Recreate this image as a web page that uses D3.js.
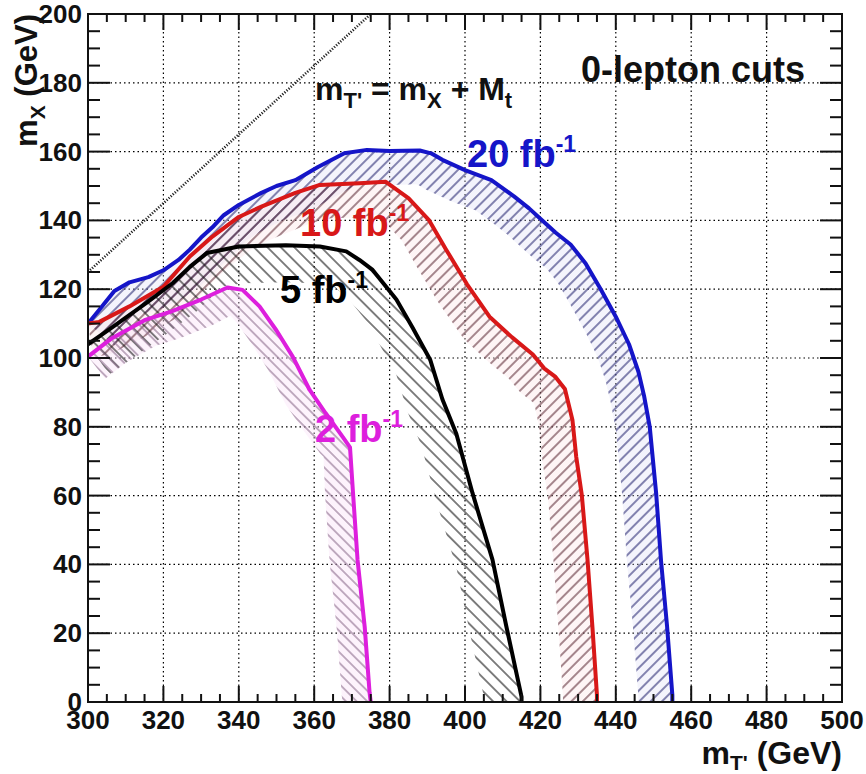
<!DOCTYPE html>
<html>
<head>
<meta charset="utf-8">
<script src="https://cdn.jsdelivr.net/npm/d3@7"></script>
<style>
  html, body { margin: 0; padding: 0; background: #fff; }
  svg { display: block; }
  text { font-family: "Liberation Sans", Arial, Helvetica, sans-serif; font-weight: bold; }
</style>
</head>
<body>
<svg id="chart" width="866" height="774"></svg>
<script>
// ---------------- data ----------------
const xTicks = [300, 320, 340, 360, 380, 400, 420, 440, 460, 480, 500];
const yTicks = [0, 20, 40, 60, 80, 100, 120, 140, 160, 180, 200];

// 20 fb^-1 exclusion contour
const curve20 = [[300,110],[303,114],[307,119.5],[311,122],[316,123.5],[320,125.5],[324,128.5],[327,131.5],
  [330,135],[333,138],[336,141.5],[340,144.5],[346,148],[350,150],[355,151.7],[361,155.5],[368,159.5],
  [374,160.5],[380,160.2],[388,160.3],[391,159.5],[394,157.6],[400,154.6],[407,151.7],[413,147],
  [417,143.5],[420.5,140],[424,136.5],[428,133],[432,127.5],[436,120],[440,112],[443.5,104],[446,96],
  [447.5,89],[449,80],[450.7,60.7],[452,41],[453.6,22],[455,2],[455,0]];
// 10 fb^-1
const curve10 = [[300,110],[303,110.5],[311,115],[320,120.7],[327,129.5],[333,135.3],[340,141],[346,144],
  [355,148],[361.5,150.3],[372,150.8],[379,151.2],[385,146.5],[390.5,140],[395,131.5],[400.5,121.5],
  [406.5,112],[412.5,106],[418,101],[421,97],[424,94.5],[426.5,91],[428.5,82],[429.5,71.3],
  [431,60],[432.5,41.3],[433.8,21.8],[435,2],[435,0]];
// 5 fb^-1
const curve5 = [[300,104],[306.5,109],[315.5,116],[322.5,121.8],[327,126.5],[331.5,130.5],[340,132.4],
  [352.5,132.8],[361.5,132.4],[368.5,131],[372,128.5],[375.5,125.6],[381.8,117],[386,109],[390.8,99.4],
  [394,88],[397.7,78],[402,60.7],[407.3,41.3],[411,21.8],[415,1.5],[415,0]];
// 2 fb^-1
const curve2 = [[300,100.4],[306,105.5],[315,111],[322,113.5],[330,117],[337,120.5],[341,119.8],
  [345.5,115],[350,108],[354.3,100.4],[358.8,90.7],[363,84],[367.6,77],[369.5,74],[370.3,60.7],
  [371.5,41.3],[373.4,21.8],[374.7,2.6],[375,0]];
// kinematic limit m_T' = m_X + M_t (M_t = 175)
const diagLine = [[300,125],[375,200]];

// ---------------- layout ----------------
const L = 88, R = 842, T = 14, B = 702;
const svg = d3.select("#chart");
const x = d3.scaleLinear().domain([300, 500]).range([L, R]);
const y = d3.scaleLinear().domain([0, 200]).range([B, T]);

const defs = svg.append("defs");
defs.append("clipPath").attr("id", "frameClip")
  .append("rect").attr("x", L).attr("y", T).attr("width", R - L).attr("height", B - T);

function hatch(id, angle, color, spacing) {
  const p = defs.append("pattern").attr("id", id)
    .attr("patternUnits", "userSpaceOnUse")
    .attr("width", spacing).attr("height", spacing)
    .attr("patternTransform", `rotate(${angle})`);
  p.append("line").attr("x1", 0).attr("y1", spacing / 2).attr("x2", spacing).attr("y2", spacing / 2)
    .attr("stroke", color).attr("stroke-width", 1.1);
}

const series = [
  { data: curve20, color: "#1515c8", hatchColor: "#23236e", tint: "#dcdcf6", angle: -45, spacing: 8, w: 34 },
  { data: curve10, color: "#d81818", hatchColor: "#5a2a35", tint: "#fbdde2", angle: -45, spacing: 8, w: 34 },
  { data: curve5,  color: "#000000", hatchColor: "#1a1a1a", tint: "none",    angle: 45,  spacing: 9.5, w: 37 },
  { data: curve2,  color: "#dd1fdd", hatchColor: "#907090", tint: "#f8d8f4", angle: 45,  spacing: 7.5, w: 28 }
];
series.forEach((s, i) => { s.id = "hatch" + i; hatch(s.id, s.angle, s.hatchColor, s.spacing); });

// ---------------- grid ----------------
const grid = svg.append("g");
grid.selectAll(".gx").data(xTicks.slice(1, -1)).join("line")
  .attr("x1", d => x(d)).attr("x2", d => x(d)).attr("y1", T).attr("y2", B)
  .attr("stroke", "#000").attr("stroke-width", 1.2).attr("stroke-dasharray", "1.5 3");
grid.selectAll(".gy").data(yTicks.slice(1, -1)).join("line")
  .attr("x1", L).attr("x2", R).attr("y1", d => y(d)).attr("y2", d => y(d))
  .attr("stroke", "#000").attr("stroke-width", 1.2).attr("stroke-dasharray", "1.5 3");

// ---------------- bands ----------------
function bandPolygon(pts, w) {
  const P = pts.map(d => [x(d[0]), y(d[1])]);
  const off = P.map((p, i) => {
    let nx = 0, ny = 0;
    if (i > 0) { const dx = p[0] - P[i-1][0], dy = p[1] - P[i-1][1], l = Math.hypot(dx, dy) || 1; nx += -dy / l; ny += dx / l; }
    if (i < P.length - 1) { const dx = P[i+1][0] - p[0], dy = P[i+1][1] - p[1], l = Math.hypot(dx, dy) || 1; nx += -dy / l; ny += dx / l; }
    const l = Math.hypot(nx, ny) || 1;
    return [p[0] + w * nx / l, p[1] + w * ny / l];
  });
  return P.concat(off.reverse());
}
const plot = svg.append("g").attr("clip-path", "url(#frameClip)");
const polyLine = d3.line();
series.forEach(s => {
  const poly = bandPolygon(s.data, s.w);
  if (s.tint !== "none")
    plot.append("path").attr("d", polyLine(poly) + "Z").attr("fill", s.tint).attr("fill-opacity", 0.3);
});
series.forEach(s => {
  const poly = bandPolygon(s.data, s.w);
  plot.append("path").attr("d", polyLine(poly) + "Z").attr("fill", `url(#${s.id})`);
});

// diagonal
plot.append("path").attr("d", d3.line().x(d => x(d[0])).y(d => y(d[1]))(diagLine))
  .attr("stroke", "#222").attr("stroke-width", 2.6).attr("stroke-dasharray", "1.2 1.6").attr("fill", "none");

// contour lines
const line = d3.line().x(d => x(d[0])).y(d => y(d[1]));
series.forEach(s => {
  plot.append("path").attr("d", line(s.data)).attr("fill", "none")
    .attr("stroke", s.color).attr("stroke-width", 4).attr("stroke-linejoin", "round");
});

// ---------------- frame & ticks ----------------
const ax = svg.append("g").attr("stroke", "#111").attr("stroke-width", 2);
ax.append("rect").attr("x", L).attr("y", T).attr("width", R - L).attr("height", B - T).attr("fill", "none");
const xMinor = d3.range(300, 500.1, 5);
const yMinor = d3.range(0, 200.1, 5);
xMinor.forEach(v => {
  const major = v % 20 === 0;
  const len = major ? 16 : 8;
  ax.append("line").attr("x1", x(v)).attr("x2", x(v)).attr("y1", B).attr("y2", B - len);
  ax.append("line").attr("x1", x(v)).attr("x2", x(v)).attr("y1", T).attr("y2", T + len);
});
yMinor.forEach(v => {
  const major = v % 20 === 0;
  const len = major ? 22 : 12;
  ax.append("line").attr("y1", y(v)).attr("y2", y(v)).attr("x1", L).attr("x2", L + len);
  ax.append("line").attr("y1", y(v)).attr("y2", y(v)).attr("x1", R).attr("x2", R - len);
});

// tick labels
svg.append("g").selectAll("text").data(xTicks).join("text")
  .attr("x", d => x(d)).attr("y", B + 27).attr("text-anchor", "middle")
  .attr("font-size", 26).attr("fill", "#111").text(d => d);
svg.append("g").selectAll("text").data(yTicks).join("text")
  .attr("x", L - 6).attr("y", d => y(d) + 9).attr("text-anchor", "end")
  .attr("font-size", 26).attr("fill", "#111").text(d => d);

// axis titles
const xt = svg.append("text").attr("x", R).attr("y", 764).attr("text-anchor", "end").attr("font-size", 32).attr("fill", "#111");
xt.append("tspan").text("m");
xt.append("tspan").attr("font-size", 21).attr("dy", 6).text("T'");
xt.append("tspan").attr("dy", -6).text(" (GeV)");

const yt = svg.append("text").attr("transform", `translate(37,${T}) rotate(-90)`).attr("text-anchor", "end")
  .attr("font-size", 31).attr("fill", "#111");
yt.append("tspan").text("m");
yt.append("tspan").attr("font-size", 21).attr("dy", 8).text("X");
yt.append("tspan").attr("dy", -8).text(" (GeV)");

// annotations
const anno = svg.append("g");
anno.append("text").attr("x", 805).attr("y", 82).attr("text-anchor", "end")
  .attr("font-size", 36).attr("fill", "#111").text("0-lepton cuts");

const eq = anno.append("text").attr("x", 315).attr("y", 100).attr("font-size", 32).attr("fill", "#111");
eq.append("tspan").text("m");
eq.append("tspan").attr("font-size", 22).attr("dy", 8).text("T'");
eq.append("tspan").attr("dy", -8).text(" = m");
eq.append("tspan").attr("font-size", 22).attr("dy", 8).text("X");
eq.append("tspan").attr("dy", -8).text(" + M");
eq.append("tspan").attr("font-size", 22).attr("dy", 8).text("t");

const lumiLabels = [
  { text: "20 fb", px: 467, py: 167, color: "#1515c8" },
  { text: "10 fb", px: 300, py: 236, color: "#d81818" },
  { text: "5 fb",  px: 280, py: 303, color: "#000000" },
  { text: "2 fb",  px: 315, py: 442, color: "#dd1fdd" }
];
lumiLabels.forEach(l => {
  const t = anno.append("text").attr("x", l.px).attr("y", l.py).attr("font-size", 38).attr("fill", l.color);
  t.append("tspan").text(l.text);
  t.append("tspan").attr("font-size", 23).attr("dy", -15).text("-1");
});
</script>
</body>
</html>
